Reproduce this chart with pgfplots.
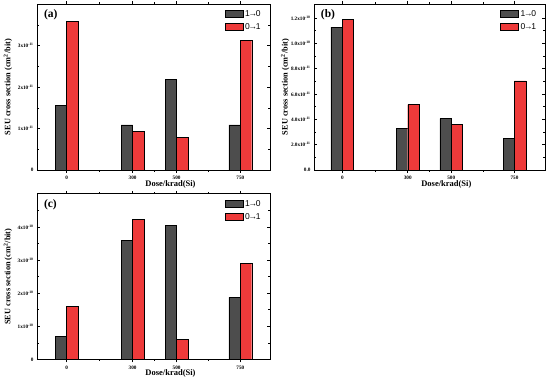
\documentclass[border=0pt]{standalone}
\usepackage{pgfplots}
\pgfplotsset{compat=1.18}
\usepackage{fontspec}
\setmainfont{Liberation Serif}
\newfontfamily\legfont{Liberation Sans}
\definecolor{bargray}{RGB}{77,77,77}
\definecolor{barred}{RGB}{238,58,58}
\pgfplotsset{
  seu/.style={
    scale only axis, width=233pt, height=166pt,
    xmin=-1.35, xmax=9.25, ymin=0,
    scaled y ticks=false, scaled x ticks=false,
    xtick={0,3,5,7.9}, xticklabels={0,300,500,750},
    minor xtick={1.5,4,6.45},
    tick align=inside, xtick pos=both, ytick pos=both,
    xticklabel pos=lower, yticklabel pos=left,
    major tick length=3pt, minor tick length=1.6pt,
    every tick/.style={black, line width=0.5pt},
    axis line style={line width=0.7pt},
    ybar, bar width=0.52,
    tick label style={font=\bfseries\fontsize{5.2}{6}\selectfont},
    xlabel={Dose/krad(Si)},
    xlabel style={font=\bfseries\fontsize{8.5}{9}\selectfont, at={(axis description cs:0.573,-0.086)}, anchor=center},
    ylabel={SEU cross section (cm\textsuperscript{2}/bit)},
    ylabel style={font=\bfseries\fontsize{8.3}{9}\selectfont, at={(axis description cs:-0.125,0.5)}, anchor=center, rotate=0},
    legend style={draw=none, fill=none, legend cell align=left,
      at={(axis description cs:0.805,0.975)}, anchor=north west,
      font=\legfont\fontsize{8.5}{9}\selectfont, row sep=1.5pt, inner sep=0pt},
  },
  gbar/.style={fill=bargray, draw=black, line width=0.4pt, bar shift=-0.26,
    legend image code/.code={\draw[fill=bargray, draw=black, line width=0.4pt] (0pt,-3.6pt) rectangle (18pt,3.6pt);}},
  rbar/.style={fill=barred, draw=black, line width=0.4pt, bar shift=0.26,
    legend image code/.code={\draw[fill=barred, draw=black, line width=0.4pt] (0pt,-3.6pt) rectangle (18pt,3.6pt);}},
}
\newcommand{\lo}{1\kern-1.2pt→\kern-1.2pt0}
\newcommand{\ol}{0\kern-1.2pt→\kern-1.2pt1}
\begin{document}
\begin{tikzpicture}
\path[use as bounding box] (0pt,0pt) rectangle (550pt,381pt);
% (a)
\begin{axis}[seu, at={(37pt,211pt)}, anchor=south west,
  ymax=4e-11, ytick={0,1e-11,2e-11,3e-11},
  yticklabels={0,1x10\textsuperscript{-11},2x10\textsuperscript{-11},3x10\textsuperscript{-11}},
  minor ytick={0.5e-11,1.5e-11,2.5e-11,3.5e-11}]
\addplot[gbar] coordinates {(0,1.56e-11) (3,1.09e-11) (5,2.18e-11) (7.9,1.09e-11)};
\addplot[rbar] coordinates {(0,3.59e-11) (3,0.93e-11) (5,0.78e-11) (7.9,3.12e-11)};
\legend{\lo,\ol}
\node[font=\bfseries\fontsize{11.5}{12}\selectfont, anchor=west] at (axis description cs:0.015,0.935) {(a)};
\end{axis}
% (b)
\begin{axis}[seu, at={(314pt,211pt)}, anchor=south west, width=231pt,
  xmin=-1.3, xmax=9.3,
  ymax=1.31e-10, ytick={0,2e-11,4e-11,6e-11,8e-11,1e-10,1.2e-10},
  yticklabels={0.0,2.0x10\textsuperscript{-11},4.0x10\textsuperscript{-11},6.0x10\textsuperscript{-11},8.0x10\textsuperscript{-11},1.0x10\textsuperscript{-10},1.2x10\textsuperscript{-10}},
  minor ytick={1e-11,3e-11,5e-11,7e-11,9e-11,1.1e-10}]
\addplot[gbar] coordinates {(0,1.128e-10) (3,3.3e-11) (5,4.06e-11) (7.9,2.5e-11)};
\addplot[rbar] coordinates {(0,1.19e-10) (3,5.16e-11) (5,3.58e-11) (7.9,7.04e-11)};
\legend{\lo,\ol}
\node[font=\bfseries\fontsize{11.5}{12}\selectfont, anchor=west] at (axis description cs:0.015,0.935) {(b)};
\end{axis}
% (c)
\begin{axis}[seu, at={(37pt,21.7pt)}, anchor=south west, height=165.5pt,
  ymax=5e-10, ytick={0,1e-10,2e-10,3e-10,4e-10},
  yticklabels={0,1x10\textsuperscript{-10},2x10\textsuperscript{-10},3x10\textsuperscript{-10},4x10\textsuperscript{-10}},
  minor ytick={0.5e-10,1.5e-10,2.5e-10,3.5e-10,4.5e-10}]
\addplot[gbar] coordinates {(0,0.70e-10) (3,3.60e-10) (5,4.04e-10) (7.9,1.87e-10)};
\addplot[rbar] coordinates {(0,1.61e-10) (3,4.23e-10) (5,0.61e-10) (7.9,2.89e-10)};
\legend{\lo,\ol}
\node[font=\bfseries\fontsize{11.5}{12}\selectfont, anchor=west] at (axis description cs:0.015,0.935) {(c)};
\end{axis}
\end{tikzpicture}
\end{document}
